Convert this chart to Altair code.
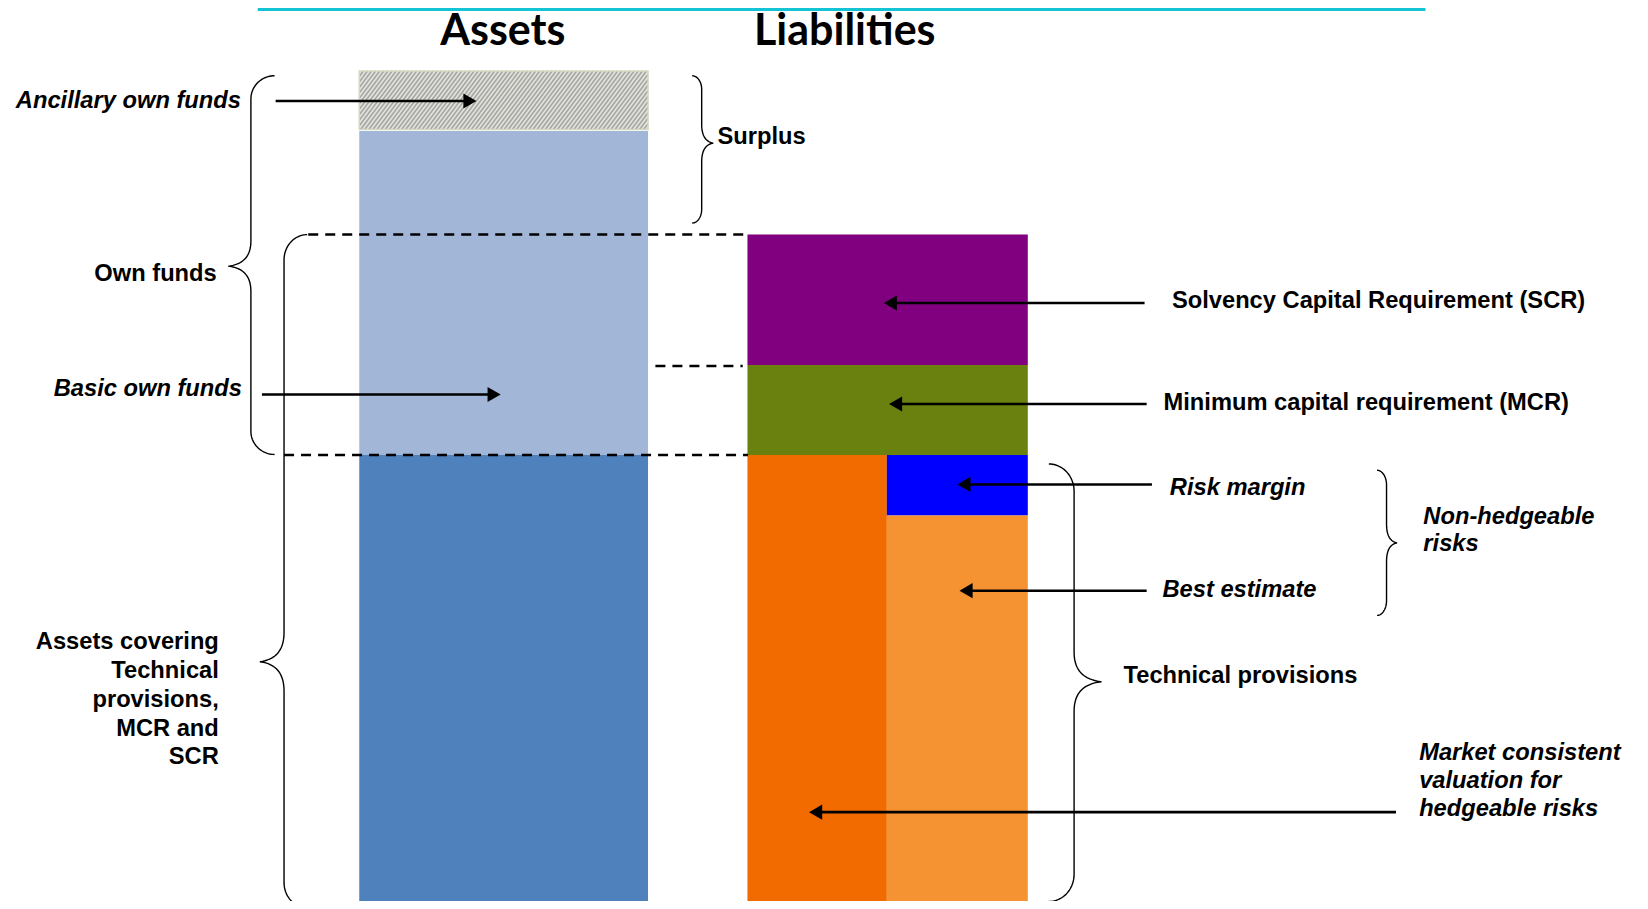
import altair as alt
import numpy as np
import pandas as pd

# ---------------- data: diagram units ----------------
# balance-sheet blocks
blk_name = ["Ancillary own funds", "Basic own funds", "Assets covering TP, MCR and SCR",
            "SCR", "MCR", "Hedgeable risks", "Risk margin", "Best estimate"]
blk_x0 = [341.5, 341.5, 341.5, 710.5, 710.5, 710.5, 843.0, 843.0]
blk_x1 = [616.0, 616.0, 616.0, 977.0, 977.0, 843.0, 977.0, 977.0]
blk_top = [67.5, 124.5, 432.5, 222.8, 347.0, 432.5, 432.5, 490.0]
blk_bot = [123.0, 432.5, 864.0, 347.0, 432.5, 864.0, 490.0, 864.0]
blk_color = ["#E3E3DB", "#A2B6D8", "#4F81BD", "#800080", "#6A800F",
             "#F26B00", "#0000FF", "#F59232"]

# column titles (alphabetic baseline)
ttl_text = ["Assets", "Liabilities"]
ttl_x = [478, 803]
ttl_y = [42.5, 42.5]

# labels
lbl_text = ["Ancillary own funds", "Own funds", "Basic own funds",
            "Assets covering", "Technical", "provisions,", "MCR and", "SCR",
            "Surplus", "Solvency Capital Requirement (SCR)",
            "Minimum capital requirement (MCR)", "Risk margin", "Best estimate",
            "Technical provisions", "Non-hedgeable", "risks",
            "Market consistent", "valuation for", "hedgeable risks"]
lbl_x = [229, 206, 230,
         208, 208, 208, 208, 208,
         682, 1114,
         1106, 1112, 1105,
         1068, 1353, 1353,
         1349, 1349, 1349]
lbl_y = [96, 260, 370,
         610, 637.5, 665, 692.5, 720,
         130, 286,
         383, 464, 561,
         643, 491, 517,
         716, 742, 769]
lbl_align = ["right", "right", "right",
             "right", "right", "right", "right", "right",
             "left", "left",
             "left", "left", "left",
             "left", "left", "left",
             "left", "left", "left"]
lbl_italic = [True, False, True,
              False, False, False, False, False,
              False, False,
              False, True, True,
              False, True, True,
              True, True, True]

# arrows (tail -> tip)
arr_y = [96, 375, 288, 384, 460.5, 561.5, 772]
arr_tail = [262, 249, 1088, 1090, 1095, 1090, 1327]
arr_tip = [455, 478, 838, 843, 908, 910, 767]

# dashed guide lines
dash_y = [223, 348, 432.5]
dash_x0 = [293, 623, 270]
dash_x1 = [711, 706, 711]

# curly braces: line x, end x, tip x, top y, tip y, bottom y, curl height, tip height
brace_xm = [238.5, 270, 667, 1021, 1318]
brace_xe = [261, 292, 658, 997, 1309]
brace_xt = [217, 247, 678, 1047, 1328]
brace_y0 = [72, 223, 72, 441, 447]
brace_yt = [253, 629, 136, 648, 516]
brace_y1 = [432, 863, 212, 857, 585]
brace_r = [22, 24, 13, 26, 14]
brace_r2 = [24, 28, 18, 28, 18]

# top accent rule
accent_x0, accent_x1, accent_y = 245, 1355, 9

# ---------------- scales: 1 diagram unit = 1.052 screen px ----------------
PX = 1.052
W, H = 1632, 893
xs = alt.Scale(domain=[8 / PX, (8 + W) / PX], nice=False, zero=False)
ys = alt.Scale(domain=[8 / PX, (8 + H) / PX], nice=False, zero=False, reverse=True)


def X(f):
    return alt.X(f, type="quantitative", scale=xs, axis=None)


def Y(f):
    return alt.Y(f, type="quantitative", scale=ys, axis=None)


# ---------------- blocks ----------------
blocks = pd.DataFrame(dict(name=blk_name, x0=blk_x0, x1=blk_x1, t=blk_top,
                           b=blk_bot, c=blk_color))
rects = alt.Chart(blocks).mark_rect(clip=True).encode(
    x=X("x0"), x2="x1", y=Y("t"), y2="b",
    color=alt.Color("c:N", scale=None))

# hatch pattern for ancillary own funds (derived from its block bounds)
hx0, hx1, hy0, hy1 = blk_x0[0], blk_x1[0], blk_top[0], blk_bot[0]
k, step = 0.75, 3.9
hh = hy1 - hy0
segs = []
c = hx0 - k * hh
while c < hx1:
    xa, ya = c, hy1
    xb, yb = c + k * hh, hy0
    if xa < hx0:
        ya = hy1 - (hx0 - c) / k
        xa = hx0
    if xb > hx1:
        yb = hy1 - (hx1 - c) / k
        xb = hx1
    if xa < xb:
        segs.append(dict(xa=xa, ya=ya, xb=xb, yb=yb))
    c += step
hatch = alt.Chart(pd.DataFrame(segs)).mark_rule(
    color="#A6A6A6", strokeWidth=1.6).encode(
    x=X("xa"), y=Y("ya"), x2="xb", y2="yb")
hatch_border = alt.Chart(blocks.iloc[[0]]).mark_rect(
    fillOpacity=0, stroke="#D4D8BE", strokeWidth=1.5).encode(
    x=X("x0"), x2="x1", y=Y("t"), y2="b")

# ---------------- dashed lines ----------------
dashes = alt.Chart(pd.DataFrame(dict(y=dash_y, x0=dash_x0, x1=dash_x1))).mark_rule(
    color="black", strokeWidth=2.5, strokeDash=[10, 7]).encode(
    x=X("x0"), x2="x1", y=Y("y"))

# ---------------- braces ----------------
def bez(p0, p1, p2, p3, n=24):
    t = np.linspace(0, 1, n)[:, None]
    p0, p1, p2, p3 = map(np.array, (p0, p1, p2, p3))
    return ((1 - t) ** 3) * p0 + 3 * ((1 - t) ** 2) * t * p1 + 3 * (1 - t) * t ** 2 * p2 + t ** 3 * p3


rows = []
for i in range(len(brace_xm)):
    xm, xe, xt = brace_xm[i], brace_xe[i], brace_xt[i]
    y0, yt, y1 = brace_y0[i], brace_yt[i], brace_y1[i]
    r, r2 = brace_r[i], brace_r2[i]
    parts = [
        bez((xe, y0), (xm + 0.45 * (xe - xm), y0), (xm, y0 + 0.45 * r), (xm, y0 + r)),
        bez((xm, y0 + r), (xm, y0 + r), (xm, yt - r2), (xm, yt - r2), n=2),
        bez((xm, yt - r2), (xm, yt - 0.3 * r2), (xm + 0.45 * (xt - xm), yt - 0.06 * r2), (xt, yt)),
        bez((xt, yt), (xm + 0.45 * (xt - xm), yt + 0.06 * r2), (xm, yt + 0.3 * r2), (xm, yt + r2)),
        bez((xm, yt + r2), (xm, yt + r2), (xm, y1 - r), (xm, y1 - r), n=2),
        bez((xm, y1 - r), (xm, y1 - 0.45 * r), (xm + 0.45 * (xe - xm), y1), (xe, y1)),
    ]
    pts = np.vstack(parts)
    for j, (px, py) in enumerate(pts):
        rows.append(dict(id=i, o=j, x=px, y=py))
braces = alt.Chart(pd.DataFrame(rows)).mark_line(
    color="black", strokeWidth=1.4, interpolate="linear").encode(
    x=X("x"), y=Y("y"), detail="id:N", order="o:Q")

# ---------------- arrows ----------------
arr = pd.DataFrame(dict(y=arr_y, tail=arr_tail, tip=arr_tip))
arr["dir"] = np.where(arr["tip"] > arr["tail"], "right", "left")
arr["head"] = arr["tip"] - np.sign(arr["tip"] - arr["tail"]) * 8.3
shafts = alt.Chart(arr).mark_rule(color="black", strokeWidth=2.6).encode(
    x=X("tail"), x2="head", y=Y("y"))
heads = alt.Chart(arr).mark_point(filled=True, opacity=1, color="black", size=230).encode(
    x=X("head"), y=Y("y"),
    shape=alt.Shape("dir:N", scale=alt.Scale(domain=["right", "left"],
                                             range=["triangle-right", "triangle-left"]),
                    legend=None))

# ---------------- accent line ----------------
accent = alt.Chart(pd.DataFrame(dict(x0=[accent_x0], x1=[accent_x1], y=[accent_y]))).mark_rule(
    color="#14C4D4", strokeWidth=3).encode(x=X("x0"), x2="x1", y=Y("y"))

# ---------------- texts ----------------
titles = alt.Chart(pd.DataFrame(dict(t=ttl_text, x=ttl_x, y=ttl_y))).mark_text(
    font="Lato", fontSize=43, fontWeight="bold", color="black",
    align="center", baseline="alphabetic").encode(x=X("x"), y=Y("y"), text="t:N")

lbl = pd.DataFrame(dict(t=lbl_text, x=lbl_x, y=lbl_y, a=lbl_align, it=lbl_italic))
text_layers = []
for a in ["left", "right"]:
    for it in [False, True]:
        sub = lbl[(lbl["a"] == a) & (lbl["it"] == it)]
        if len(sub) == 0:
            continue
        kw = dict(font="Liberation Sans", fontSize=23.7, fontWeight="bold",
                  color="black", align=a, baseline="middle")
        if it:
            kw["fontStyle"] = "italic"
        text_layers.append(alt.Chart(sub).mark_text(**kw).encode(
            x=X("x"), y=Y("y"), text="t:N"))

chart = alt.layer(
    rects, hatch, hatch_border, dashes, braces, shafts, heads, accent, titles, *text_layers
).properties(
    width=W, height=H, padding=0, autosize=alt.AutoSizeParams(type="none"),
    background="white"
).configure_view(stroke=None)

chart.save("out.html", embed_options={"renderer": "svg", "actions": False})
